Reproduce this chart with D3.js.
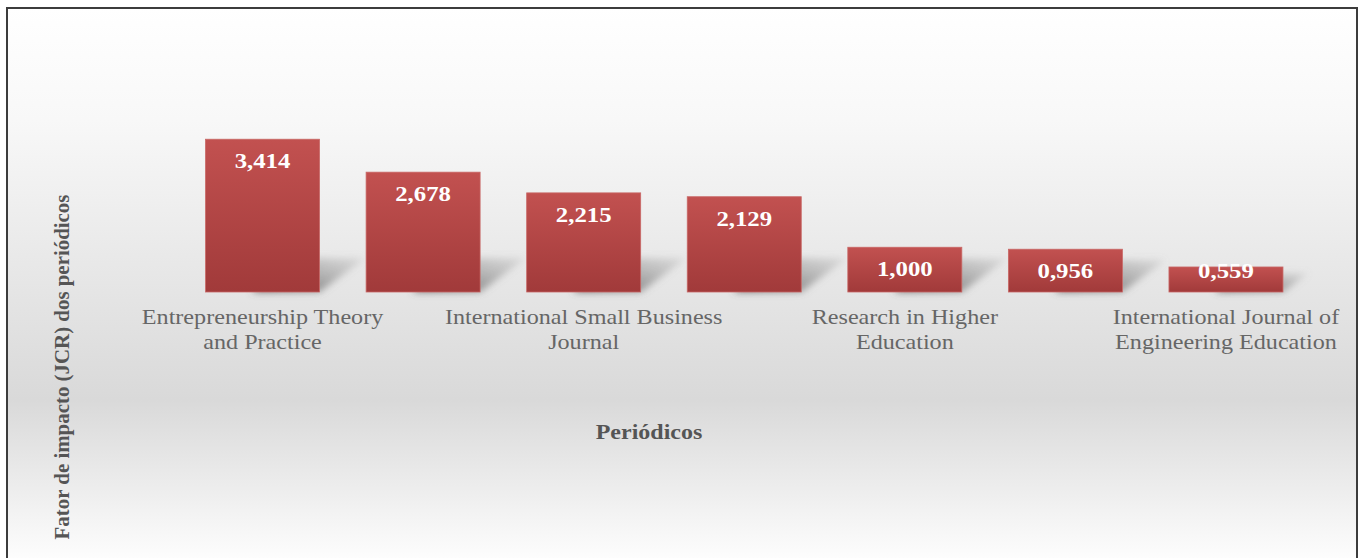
<!DOCTYPE html>
<html>
<head>
<meta charset="utf-8">
<script src="https://cdn.jsdelivr.net/npm/d3@7"></script>
<style>
  html, body { margin: 0; padding: 0; background: #ffffff; }
  svg { display: block; }
</style>
</head>
<body>
<svg id="chart" width="1360" height="558"></svg>
<script>
// ---- data ----
const categories = [
  "Entrepreneurship Theory\nand Practice",
  "",
  "International Small Business\nJournal",
  "",
  "Research in Higher\nEducation",
  "",
  "International Journal of\nEngineering Education"
];
const values = [3.414, 2.678, 2.215, 2.129, 1.000, 0.956, 0.559];
const valueLabels = ["3,414", "2,678", "2,215", "2,129", "1,000", "0,956", "0,559"];
const xTitle = "Periódicos";
const yTitle = "Fator de impacto (JCR) dos periódicos";

// ---- layout ----
const W = 1360, H = 558;
const SERIF = "'Liberation Serif', 'Times New Roman', serif";
const svg = d3.select("#chart");
const defs = svg.append("defs");

const bg = defs.append("linearGradient").attr("id", "bgGrad")
  .attr("x1", 0).attr("y1", 0).attr("x2", 0).attr("y2", 1);
bg.append("stop").attr("offset", "0%").attr("stop-color", "#ffffff");
bg.append("stop").attr("offset", "20%").attr("stop-color", "#f8f8f8");
bg.append("stop").attr("offset", "70%").attr("stop-color", "#d9d9d9");
bg.append("stop").attr("offset", "100%").attr("stop-color", "#ffffff");

const barGrad = defs.append("linearGradient").attr("id", "barGrad")
  .attr("x1", 0).attr("y1", 0).attr("x2", 0).attr("y2", 1);
barGrad.append("stop").attr("offset", "0%").attr("stop-color", "#c25150");
barGrad.append("stop").attr("offset", "100%").attr("stop-color", "#a13a3a");

const shGrad = defs.append("linearGradient").attr("id", "shGrad")
  .attr("x1", 0).attr("y1", 1).attr("x2", 1).attr("y2", 0);
shGrad.append("stop").attr("offset", "0%").attr("stop-color", "#5a5a5a").attr("stop-opacity", 0.9);
shGrad.append("stop").attr("offset", "100%").attr("stop-color", "#909090").attr("stop-opacity", 0.15);

const blur = defs.append("filter").attr("id", "shadowBlur")
  .attr("x", "-50%").attr("y", "-50%").attr("width", "200%").attr("height", "200%");
blur.append("feGaussianBlur").attr("stdDeviation", 3.5);

// frame
svg.append("rect")
  .attr("x", 7).attr("y", 8).attr("width", 1350).attr("height", 560)
  .attr("fill", "url(#bgGrad)")
  .attr("stroke", "#3c3c3c").attr("stroke-width", 2);

// scales
const x = d3.scaleBand()
  .domain(d3.range(values.length))
  .range([182.25, 1306.25])
  .paddingInner(0.29)
  .paddingOuter(0.145);

const y = d3.scaleLinear().domain([0, 4]).range([292, 113]);

const g = svg.append("g");

// shadows
g.selectAll("polygon.shadow")
  .data(values)
  .join("polygon")
  .attr("class", "shadow")
  .attr("points", (d, i) => {
    const x0 = x(i), w = x.bandwidth(), b = y(0);
    const dh = Math.min(34, (y(0) - y(d)) * 0.75);
    const dx = dh * 1.35;
    return [
      [x0 + w * 0.4, b],
      [x0 + w, b],
      [x0 + w + dx, b - dh],
      [x0 + w * 0.4 + dx, b - dh]
    ].map(p => p.join(",")).join(" ");
  })
  .attr("fill", "url(#shGrad)")
  .attr("filter", "url(#shadowBlur)");

// bars
g.selectAll("rect.bar")
  .data(values)
  .join("rect")
  .attr("class", "bar")
  .attr("x", (d, i) => x(i))
  .attr("y", d => y(d))
  .attr("width", x.bandwidth())
  .attr("height", d => y(0) - y(d))
  .attr("fill", "url(#barGrad)")
  .attr("stroke", "#c96866")
  .attr("stroke-width", 0.8);

// value labels (slightly stretched horizontally like the source)
g.selectAll("text.val")
  .data(values)
  .join("text")
  .attr("class", "val")
  .attr("transform", (d, i) =>
    `translate(${x(i) + x.bandwidth() / 2},${Math.min(y(d) + 29, y(0) - 14)}) scale(1.18,1)`)
  .attr("text-anchor", "middle")
  .attr("font-family", SERIF)
  .attr("font-weight", "bold")
  .attr("font-size", 21)
  .attr("fill", "#ffffff")
  .text((d, i) => valueLabels[i]);

// category labels
const catG = g.selectAll("text.cat")
  .data(categories)
  .join("text")
  .attr("class", "cat")
  .attr("text-anchor", "middle")
  .attr("font-family", SERIF)
  .attr("font-size", 21)
  .attr("fill", "#666666")
  .attr("transform", (d, i) => `translate(${x(i) + x.bandwidth() / 2},324) scale(1.15,1)`);
catG.each(function(d) {
  const lines = d ? d.split("\n") : [];
  d3.select(this).selectAll("tspan")
    .data(lines)
    .join("tspan")
    .attr("x", 0)
    .attr("dy", (l, k) => k === 0 ? 0 : 25)
    .text(l => l);
});

// axis titles
svg.append("text")
  .attr("transform", "translate(649,439) scale(1.2,1)")
  .attr("text-anchor", "middle")
  .attr("font-family", SERIF)
  .attr("font-weight", "bold")
  .attr("font-size", 20)
  .attr("fill", "#555555")
  .text(xTitle);

svg.append("text")
  .attr("transform", "translate(69,367) rotate(-90) scale(1.1,1.1)")
  .attr("text-anchor", "middle")
  .attr("font-family", SERIF)
  .attr("font-weight", "bold")
  .attr("font-size", 19)
  .attr("fill", "#555555")
  .text(yTitle);
</script>
</body>
</html>
